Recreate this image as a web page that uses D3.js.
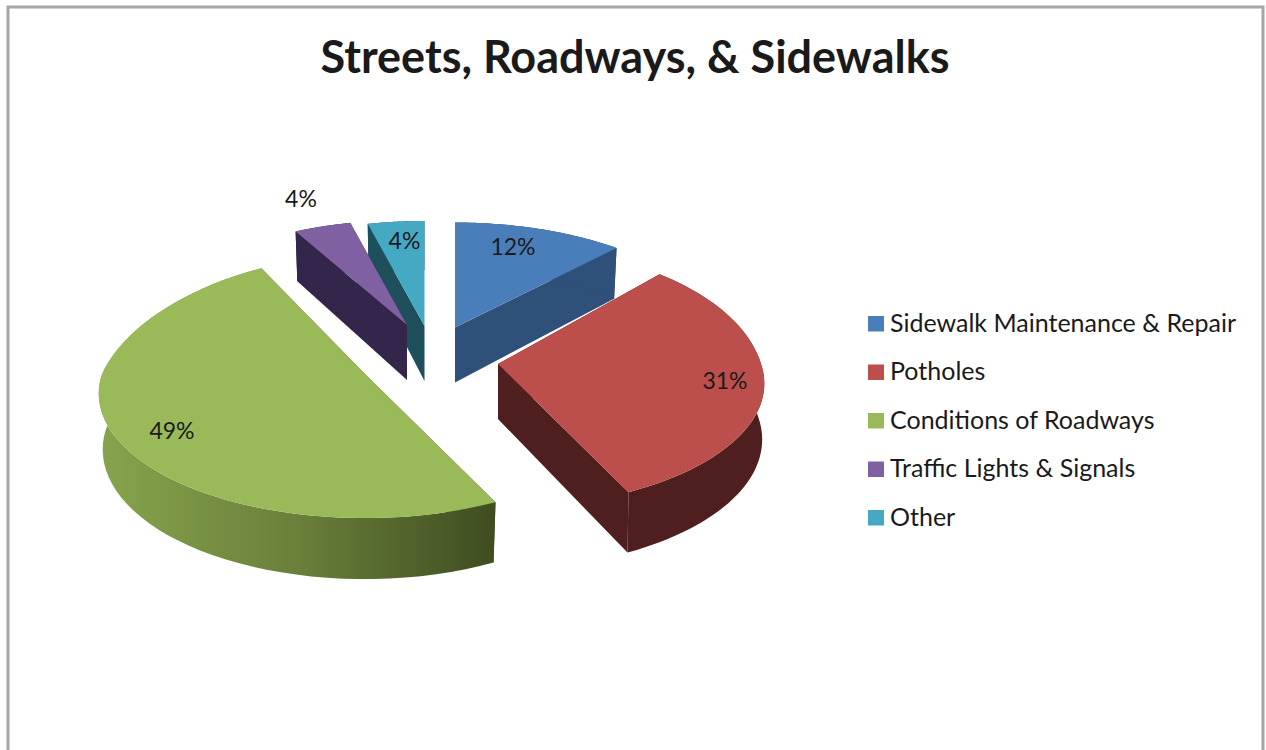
<!DOCTYPE html>
<html>
<head>
<meta charset="utf-8">
<script src="https://cdnjs.cloudflare.com/ajax/libs/d3/7.8.5/d3.min.js"></script>
<style>
    html, body { margin: 0; padding: 0; background: #ffffff; overflow: hidden; }
    text { font-family: Lato, "Open Sans", sans-serif; fill: #1a1a1a; }
</style>
</head>
<body>
<div id="chart-area"></div>
<script>
// 3D EXPLODED PIE - STREETS, ROADWAYS, & SIDEWALKS

const WIDTH = 1266
const HEIGHT = 750

const title = "Streets, Roadways, & Sidewalks"
const categories = ["Sidewalk Maintenance & Repair", "Potholes", "Conditions of Roadways", "Traffic Lights & Signals", "Other"]
const percents = [12, 31, 49, 4, 4]

const colors = ["#4a7ebb", "#bc4f4c", "#9aba59", "#7f60a0", "#46a9c4"]
const wallColors = ["#2f5078", "#4f1f1f", "url(#green-wall)", "#33264a", "#1d4f5c"]

// where each slice's point ends up once pulled out of the pie
const apexX = [455, 498, 365, 407, 424.5]
const apexY = [327.5, 364, 374, 325, 326]
// label position relative to the slice's point
const labelDX = [58, 227, -193, -106, -20]
const labelDY = [-73, 25, 65, -118, -77]

// fake perspective of the disk, the two big slices sit a bit differently
const RX = 263
const RY = 121.5
const PERSPECTIVE = 0.157
const backStretchY = [1, 1.13, 1.13, 1, 1]
const backNarrowX = [0, 0, 0.08, 0, 0]
const bottomScale = [0.985, 0.992, 0.985, 0.985, 0.985]
const drawOrder = [4, 3, 0, 2, 1]

const svg = d3.select("#chart-area").append("svg")
    .attr("width", WIDTH)
    .attr("height", HEIGHT)

// the gradient is in page units, the green slice is shifted by its point
const defs = svg.append("defs")
const greenGrad = defs.append("linearGradient")
    .attr("id", "green-wall")
    .attr("gradientUnits", "userSpaceOnUse")
    .attr("x1", 105 - apexX[2]).attr("x2", 493 - apexX[2])
    .attr("y1", 0).attr("y2", 0)
greenGrad.append("stop").attr("offset", "0%").attr("stop-color", "#86a34c")
greenGrad.append("stop").attr("offset", "50%").attr("stop-color", "#697f3a")
greenGrad.append("stop").attr("offset", "100%").attr("stop-color", "#3f4d20")

// Frame
svg.append("path")
    .attr("d", `M8,${HEIGHT} V7 H1263 V${HEIGHT}`)
    .attr("fill", "none")
    .attr("stroke", "#a6a6a6")
    .attr("stroke-width", 3)

// Title
svg.append("text")
    .attr("x", 635)
    .attr("y", 73)
    .attr("text-anchor", "middle")
    .attr("font-size", "45px")
    .attr("font-weight", 700)
    .text(title)

// Slices
const pie = d3.pie().sort(null).value(d => d)
const slices = pie(percents)
const line = d3.line()

// top of the disk, relative to the slice's point
const project = (angle, i) => {
    const u = Math.sin(angle)
    const v = -Math.cos(angle)
    const s = 1 / (1 - PERSPECTIVE * v)
    const back = Math.max(0, -v)
    const x = RX * u * s * (1 - backNarrowX[i] * back)
    const y = RY * v * s * (v < 0 ? backStretchY[i] : 1)
    return [x, y]
}
// how far the wall hangs down, nearer edge is taller
const depth = (angle) => 55 - 6 * Math.cos(angle)

const arcAngles = (d) => d3.range(0, 61).map(k => d.startAngle + (d.endAngle - d.startAngle) * k / 60)

const g = svg.append("g").attr("class", "pie")

drawOrder.forEach(i => {
    const d = slices[i]
    const slice = g.append("g")
        .attr("class", "slice")
        .attr("transform", `translate(${apexX[i]}, ${apexY[i]})`)

    const angles = arcAngles(d)
    const top = angles.map(a => project(a, i))
    const bottom = angles.map(a => {
        const p = project(a, i)
        return [p[0] * bottomScale[i], p[1] + depth(a)]
    })
    const apexBottom = [0, depth(Math.PI / 2)]
    const wall = (k) => [[0, 0], top[k], bottom[k], apexBottom]

    // cut walls
    slice.append("path")
        .attr("d", line(wall(0)) + "Z")
        .attr("fill", wallColors[i])
    slice.append("path")
        .attr("d", line(wall(top.length - 1)) + "Z")
        .attr("fill", wallColors[i])

    // outer wall
    slice.append("path")
        .attr("d", line(top.concat(bottom.slice().reverse())) + "Z")
        .attr("fill", wallColors[i])

    // top face
    slice.append("path")
        .attr("d", line([[0, 0]].concat(top)) + "Z")
        .attr("fill", colors[i])

    slice.append("text")
        .attr("x", labelDX[i])
        .attr("y", labelDY[i])
        .attr("text-anchor", "middle")
        .attr("font-size", "23px")
        .text(percents[i] + "%")
})

// Legend
const legend = svg.append("g")
    .attr("class", "legend")
    .attr("transform", "translate(868, 316)")

categories.forEach((category, i) => {
    const legendRow = legend.append("g")
        .attr("class", "legendRow")
        .attr("transform", `translate(0, ${i * 48.5})`)

    legendRow.append("rect")
        .attr("width", 16)
        .attr("height", 15.5)
        .attr("fill", colors[i])

    legendRow.append("text")
        .attr("x", 22)
        .attr("y", 15.5)
        .attr("font-size", "25px")
        .text(category)
})
</script>
</body>
</html>
